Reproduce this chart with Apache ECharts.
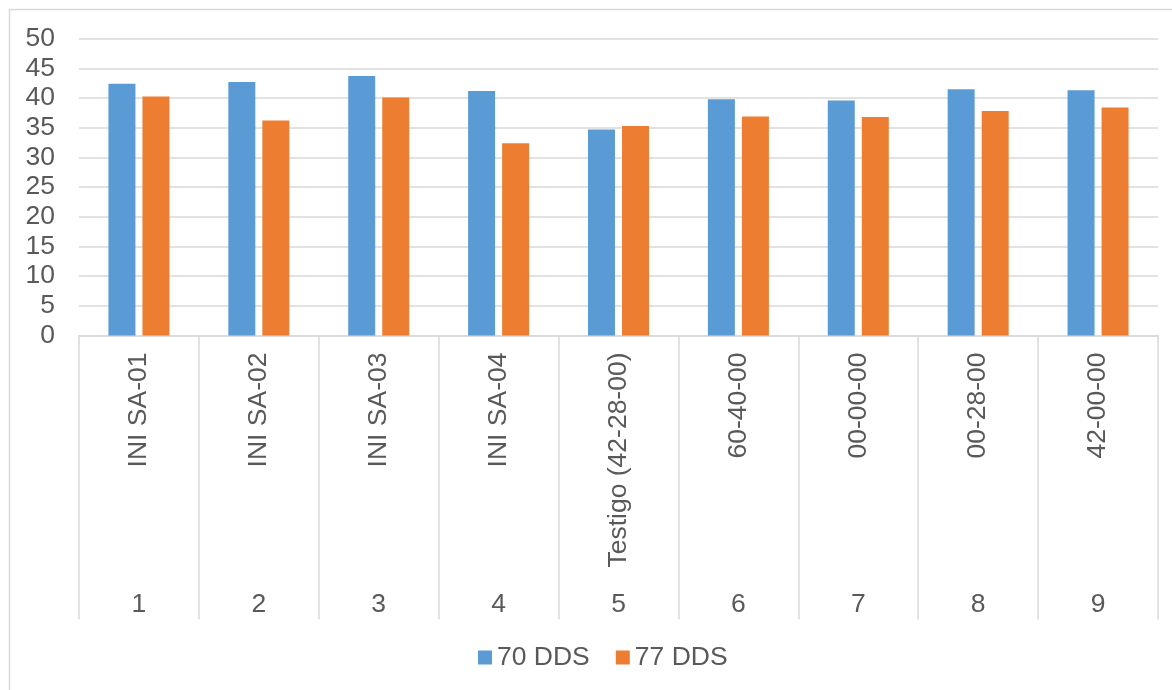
<!DOCTYPE html>
<html>
<head>
<meta charset="utf-8">
<script src="https://cdn.jsdelivr.net/npm/echarts@6/dist/echarts.min.js"></script>
<style>
html,body{margin:0;padding:0;background:#fff;}
#chart{width:1172px;height:690px;}
</style>
</head>
<body>
<div id="chart"></div>
<script>
var treatments = ['INI SA-01','INI SA-02','INI SA-03','INI SA-04','Testigo (42-28-00)','60-40-00','00-00-00','00-28-00','42-00-00'];
var groupNumbers = ['1','2','3','4','5','6','7','8','9'];
var seriesNames = ['70 DDS','77 DDS'];
var dds70 = [42.4, 42.7, 43.7, 41.2, 34.7, 39.8, 39.6, 41.5, 41.3];
var dds77 = [40.25, 36.2, 40.1, 32.4, 35.3, 36.9, 36.8, 37.8, 38.4];
var yTicks = {min: 0, max: 50, interval: 5};

var font = 'Liberation Sans, Arial, sans-serif';
var fs = 26.5;
var textColor = '#595959';
var lineColor = '#D9D9D9';
var chart = echarts.init(document.getElementById('chart'), null, {renderer: 'canvas'});
chart.setOption({
  animation: false,
  backgroundColor: '#fff',
  textStyle: {fontFamily: font},
  graphic: [{
    type: 'rect', silent: true, z: -10,
    shape: {x: 9.5, y: 9.5, width: 1200, height: 700},
    style: {fill: 'none', stroke: lineColor, lineWidth: 1.5}
  }],
  legend: {
    data: seriesNames,
    bottom: 14,
    left: 473,
    itemWidth: 14, itemHeight: 14, itemGap: 26,
    icon: 'rect',
    textStyle: {color: textColor, fontSize: fs, fontFamily: font}
  },
  grid: {left: 79, right: 14, top: 38.7, bottom: 354.5, containLabel: false},
  xAxis: [{
    type: 'category',
    data: treatments,
    position: 'bottom',
    axisLine: {show: true, lineStyle: {color: lineColor, width: 1.5}},
    axisTick: {show: true, interval: 0, length: 284, lineStyle: {color: lineColor, width: 1.5}},
    axisLabel: {interval: 0, rotate: 90, margin: 17, color: textColor, fontSize: fs, fontFamily: font}
  }, {
    type: 'category',
    data: groupNumbers,
    position: 'bottom',
    axisLine: {show: false},
    axisTick: {show: false},
    axisLabel: {interval: 0, margin: 256, color: textColor, fontSize: fs, fontFamily: font}
  }],
  yAxis: {
    type: 'value',
    min: yTicks.min, max: yTicks.max, interval: yTicks.interval,
    axisLine: {show: false},
    axisTick: {show: false},
    axisLabel: {margin: 24, color: textColor, fontSize: fs, fontFamily: font},
    splitLine: {lineStyle: {color: lineColor, width: 1.5}}
  },
  series: [{
    name: seriesNames[0], type: 'bar', data: dds70, xAxisIndex: 0,
    barWidth: 27, barGap: '26%',
    itemStyle: {color: '#5B9BD5'}
  }, {
    name: seriesNames[1], type: 'bar', data: dds77, xAxisIndex: 0,
    barWidth: 27, barGap: '26%',
    itemStyle: {color: '#ED7D31'}
  }]
});
</script>
</body>
</html>
